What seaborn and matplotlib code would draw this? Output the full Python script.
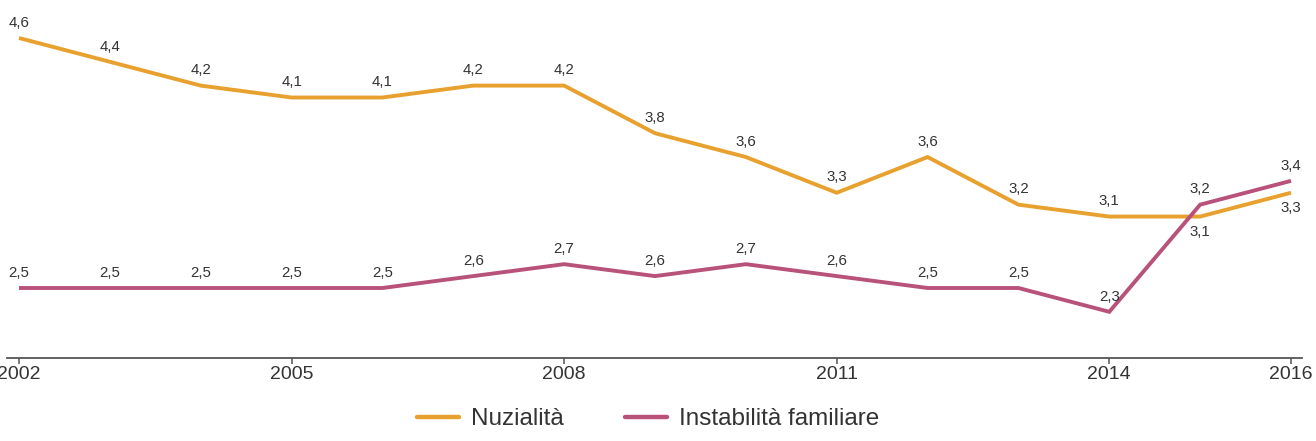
import matplotlib
matplotlib.use("Agg")
import matplotlib.pyplot as plt
import seaborn as sns
import pandas as pd
from matplotlib.lines import Line2D

years = list(range(2002, 2017))
nuzialita = [4.6, 4.4, 4.2, 4.1, 4.1, 4.2, 4.2, 3.8, 3.6, 3.3, 3.6, 3.2, 3.1, 3.1, 3.3]
instabilita = [2.5, 2.5, 2.5, 2.5, 2.5, 2.6, 2.7, 2.6, 2.7, 2.6, 2.5, 2.5, 2.3, 3.2, 3.4]
series_names = ["Nuzialità", "Instabilità familiare"]
tick_years = [2002, 2005, 2008, 2011, 2014, 2016]

colors = ["#E8A12E", "#B9527A"]

df = pd.DataFrame({
    "anno": years * 2,
    "valore": nuzialita + instabilita,
    "serie": [series_names[0]] * len(years) + [series_names[1]] * len(years),
})

sns.set_theme(style="white")
plt.rcParams["font.family"] = ["Liberation Sans", "DejaVu Sans"]

fig = plt.figure(figsize=(13.16, 4.41), dpi=100)
ax = fig.add_axes([7 / 1316, 83 / 441, 1295 / 1316, 358 / 441])

sns.lineplot(data=df, x="anno", y="valore", hue="serie", palette=colors,
             linewidth=2.8, ax=ax, legend=False, sort=True)
for ln in ax.lines:
    ln.set_solid_joinstyle("miter")
    ln.set_solid_capstyle("butt")

ax.set_xlim(2001.868, 2016.121)
ax.set_ylim(1.912, 4.919)

# data labels
below_nuz = {2015, 2016}
for x, y in zip(years, nuzialita):
    off = -11 if x in below_nuz else 11
    ax.annotate(f"{y:.1f}".replace(".", ","), (x, y), xytext=(0, off),
                textcoords="offset points", ha="center", va="center",
                fontsize=10.8, color="#333333", annotation_clip=False)
for x, y in zip(years, instabilita):
    ax.annotate(f"{y:.1f}".replace(".", ","), (x, y), xytext=(0, 11),
                textcoords="offset points", ha="center", va="center",
                fontsize=10.8, color="#333333", annotation_clip=False)

for s in ["top", "right", "left"]:
    ax.spines[s].set_visible(False)
ax.spines["bottom"].set_color("#555555")
ax.spines["bottom"].set_linewidth(1.3)
ax.set_xticks(tick_years)
ax.set_xticklabels([str(t) for t in tick_years])
ax.set_yticks([])
ax.tick_params(axis="x", direction="out", length=4, width=1.1, color="#555555",
               labelsize=14, labelcolor="#333333", pad=1.5, bottom=True)
ax.set_xlabel("")
ax.set_ylabel("")
ax.grid(False)

handles = [Line2D([], [], color=c, linewidth=3.2) for c in colors]
fig.legend(handles, series_names, loc="center", ncol=2,
           bbox_to_anchor=(648 / 1316, 22 / 441), frameon=False,
           fontsize=17.5, handlelength=1.73, handletextpad=0.5,
           columnspacing=2.5, labelcolor="#333333")

fig.savefig("out.png", dpi=100)
